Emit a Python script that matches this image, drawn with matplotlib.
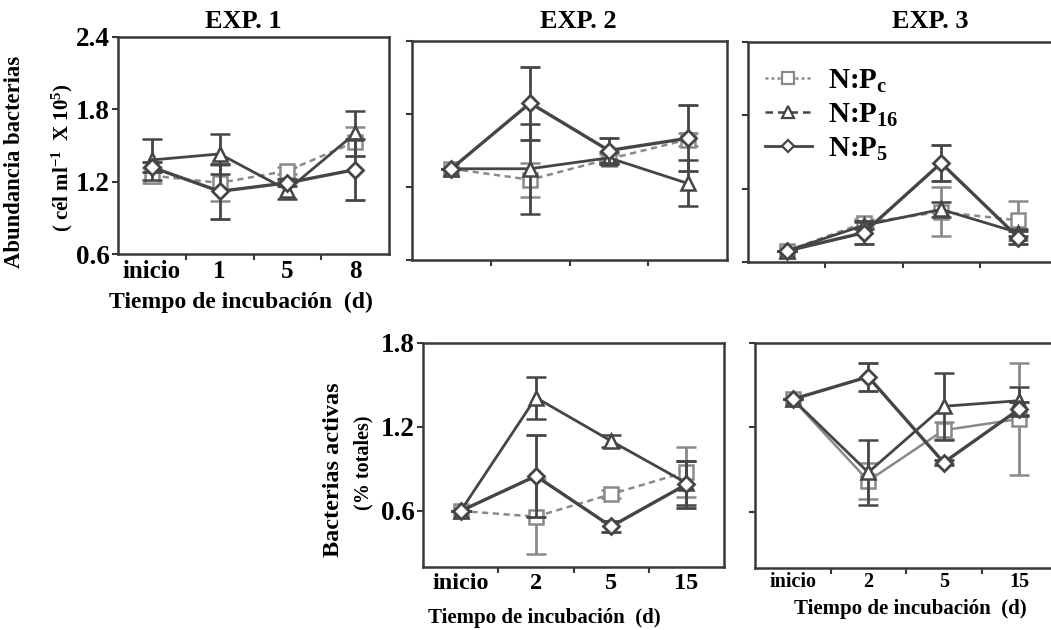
import matplotlib
matplotlib.use("Agg")
import matplotlib.pyplot as plt
from matplotlib.lines import Line2D

plt.rcParams['font.family'] = ['Liberation Serif', 'DejaVu Serif']
plt.rcParams['font.weight'] = 'bold'
plt.rcParams['mathtext.fontset'] = 'custom'
plt.rcParams['mathtext.rm'] = 'Liberation Serif:bold'
plt.rcParams['mathtext.bf'] = 'Liberation Serif:bold'
plt.rcParams['mathtext.it'] = 'Liberation Serif:bold'

# Sampling times
times_exp1 = ['inicio', '1', '5', '8']
times_exp23 = ['inicio', '2', '5', '15']

# Bacterial abundance (cells ml-1 x 10^5), EXP. 1
ab1_c = [1.25, 1.19, 1.29, 1.53]
ab1_c_err = [0.06, 0.15, 0.03, 0.12]
ab1_16 = [1.38, 1.43, 1.13, 1.60]
ab1_16_err = [0.17, 0.165, 0.07, 0.185]
ab1_5 = [1.32, 1.12, 1.19, 1.30]
ab1_5_err = [0.04, 0.23, 0.03, 0.255]

# Bacterial abundance, EXP. 2
ab2_c = [1.35, 1.26, 1.43, 1.59]
ab2_c_err = [0.0, 0.14, 0.04, 0.05]
ab2_16 = [1.35, 1.35, 1.44, 1.23]
ab2_16_err = [0.0, 0.37, 0.05, 0.19]
ab2_5 = [1.35, 1.89, 1.50, 1.60]
ab2_5_err = [0.0, 0.30, 0.10, 0.27]

# Bacterial abundance, EXP. 3
ab3_c = [0.69, 0.92, 1.01, 0.94]
ab3_c_err = [0.0, 0.03, 0.20, 0.16]
ab3_16 = [0.69, 0.90, 1.03, 0.84]
ab3_16_err = [0.0, 0.03, 0.06, 0.03]
ab3_5 = [0.69, 0.84, 1.41, 0.80]
ab3_5_err = [0.0, 0.095, 0.15, 0.05]

# Active bacteria (% of total), EXP. 2
act2_c = [0.60, 0.56, 0.72, 0.88]
act2_c_err = [0.0, 0.27, 0.03, 0.18]
act2_16 = [0.60, 1.41, 1.10, 0.80]
act2_16_err = [0.0, 0.15, 0.04, 0.16]
act2_5 = [0.60, 0.85, 0.49, 0.79]
act2_5_err = [0.0, 0.29, 0.04, 0.17]

# Active bacteria (% of total), EXP. 3
act3_c = [1.40, 0.82, 1.18, 1.26]
act3_c_err = [0.0, 0.13, 0.06, 0.40]
act3_16 = [1.40, 0.88, 1.35, 1.39]
act3_16_err = [0.0, 0.23, 0.24, 0.10]
act3_5 = [1.40, 1.56, 0.95, 1.33]
act3_5_err = [0.0, 0.10, 0.02, 0.05]

W, H = 1051, 630
fig = plt.figure(figsize=(W / 100, H / 100), dpi=100)
fig.patch.set_facecolor('white')

DARK = '#454545'
LIGHT = '#8a8a8a'
SPINE = '#383838'


def add_axes(left, right, top, bottom):
    return fig.add_axes([left / W, 1 - bottom / H, (right - left) / W, (bottom - top) / H])


def ftext(x, y, s, **kw):
    kw.setdefault('ha', 'center')
    kw.setdefault('va', 'center')
    return fig.text(x / W, 1 - y / H, s, fontweight='bold', **kw)


def style(ax, ylim, yticks):
    ax.set_xlim(-0.5, 3.5)
    ax.set_ylim(*ylim)
    for s in ax.spines.values():
        s.set_color(SPINE)
        s.set_linewidth(1.8)
    ax.set_yticks(yticks)
    ax.set_xticks([0, 1, 2, 3])
    ax.set_xticks([0.5, 1.5, 2.5], minor=True)
    ax.tick_params(axis='x', which='major', length=0, pad=4)
    ax.tick_params(axis='x', which='minor', length=4, width=1.5, color=SPINE, direction='out')
    ax.tick_params(axis='y', which='major', length=4, width=1.5, color=SPINE, direction='out')


def draw_series(ax, c, ce, t, te, d, de, c_ls='--'):
    x = [0, 1, 2, 3]
    kw = dict(capsize=7, capthick=2.0, elinewidth=2.0)
    ax.errorbar(x, c, yerr=ce, color=LIGHT, ls=c_ls, lw=1.8, marker='s', ms=10,
                mfc='white', mec=LIGHT, mew=1.8, zorder=3,
                dashes=(2.5, 1.8) if c_ls == '--' else (None, None), **kw)
    ax.errorbar(x, t, yerr=te, color=DARK, ls='-', lw=2.0, marker='^', ms=10,
                mfc='white', mec=DARK, mew=1.8, zorder=4, **kw)
    ax.errorbar(x, d, yerr=de, color=DARK, ls='-', lw=2.4, marker='D', ms=8.5,
                mfc='white', mec=DARK, mew=2.0, zorder=5, **kw)


# --- Top row: bacterial abundance ---
ax1 = add_axes(118, 389, 37, 254)
style(ax1, (0.6, 2.4), [0.6, 1.2, 1.8, 2.4])
draw_series(ax1, ab1_c, ab1_c_err, ab1_16, ab1_16_err, ab1_5, ab1_5_err)
ax1.set_xticklabels(times_exp1, fontsize=18, fontweight='bold')
ax1.set_yticklabels(['0.6', '1.2', '1.8', '2.4'], fontsize=19.5, fontweight='bold')
ax1.tick_params(axis='y', pad=2)

ax2 = add_axes(412, 727, 41, 260)
style(ax2, (0.6, 2.4), [0.6, 1.2, 1.8, 2.4])
draw_series(ax2, ab2_c, ab2_c_err, ab2_16, ab2_16_err, ab2_5, ab2_5_err)
ax2.set_xticklabels([])
ax2.set_yticklabels([])

ax3 = add_axes(748, 1057, 42, 262)
style(ax3, (0.6, 2.4), [0.6, 1.2, 1.8, 2.4])
draw_series(ax3, ab3_c, ab3_c_err, ab3_16, ab3_16_err, ab3_5, ab3_5_err)
ax3.set_xticklabels([])
ax3.set_yticklabels([])

ftext(243, 22, 'EXP. 1', fontsize=19)
ftext(578, 22, 'EXP. 2', fontsize=19)
ftext(930, 22, 'EXP. 3', fontsize=19)

# Legend drawn with hand-made handles
handles = [
    Line2D([], [], color=LIGHT, ls=(0, (1.2, 1.2)), lw=1.8, marker='s', ms=9, mfc='white', mec=LIGHT, mew=1.6),
    Line2D([], [], color=DARK, ls=(0, (3, 2)), lw=1.8, marker='^', ms=8, mfc='white', mec=DARK, mew=1.6),
    Line2D([], [], color=DARK, ls='-', lw=2.0, marker='D', ms=6, mfc='white', mec=DARK, mew=1.6),
]
labels = [r'N:P$_\mathbf{c}$', r'N:P$_\mathbf{16}$', r'N:P$_\mathbf{5}$']
ax3.legend(handles, labels, loc='upper left', bbox_to_anchor=(0.055, 0.885), frameon=False,
           prop={'size': 21, 'weight': 'bold'}, handlelength=1.6, handletextpad=0.55,
           labelspacing=0.24, borderaxespad=0.0, borderpad=0.0)

# Axis labels for the top row
ftext(15, 162, 'Abundancia bacterias', rotation=90, fontsize=16.3)
ftext(62, 158, r'( cél ml$^{\mathbf{-1}}$  X 10$^{\mathbf{5}}$)', rotation=90, fontsize=15)
ftext(241, 302, 'Tiempo de incubación  (d)', fontsize=17)

# --- Bottom row: active bacteria ---
ax4 = add_axes(423, 724, 343, 567)
style(ax4, (0.2, 1.8), [0.6, 1.2, 1.8])
draw_series(ax4, act2_c, act2_c_err, act2_16, act2_16_err, act2_5, act2_5_err)
ax4.set_xticklabels(times_exp23, fontsize=17.5, fontweight='bold')
ax4.set_yticklabels(['0.6', '1.2', '1.8'], fontsize=19.5, fontweight='bold')
ax4.tick_params(axis='y', pad=2)
ftext(544, 618, 'Tiempo de incubación  (d)', fontsize=15)
ftext(333, 470, 'Bacterias activas', rotation=90, fontsize=17.5)
ftext(363, 463, '(% totales)', rotation=90, fontsize=14.5)

ax5 = add_axes(755, 1057, 343, 568)
style(ax5, (0.2, 1.8), [0.6, 1.2, 1.8])
draw_series(ax5, act3_c, act3_c_err, act3_16, act3_16_err, act3_5, act3_5_err, c_ls='-')
ax5.set_xticklabels(times_exp23, fontsize=14.5, fontweight='bold')
ax5.tick_params(axis='x', which='major', pad=3)
ax5.set_yticklabels([])
ftext(910, 609, 'Tiempo de incubación  (d)', fontsize=15)

fig.savefig('out.png', dpi=100, facecolor='white')
